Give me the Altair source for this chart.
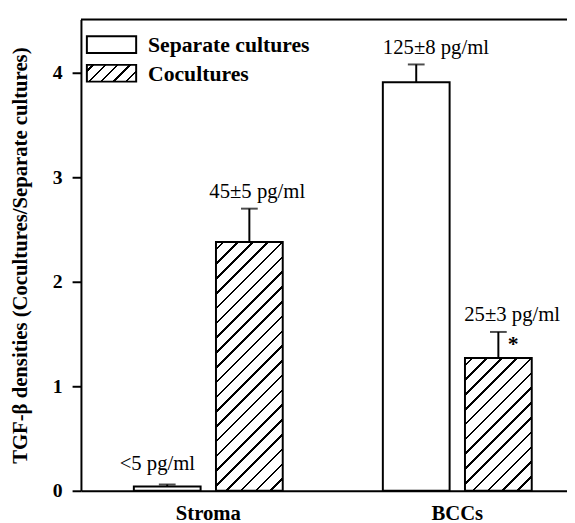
import altair as alt
import pandas as pd

# ---- data ----
groups = ["Stroma", "Stroma", "BCCs", "BCCs"]
series = ["Separate cultures", "Cocultures", "Separate cultures", "Cocultures"]
values = [0.04, 2.38, 3.91, 1.27]
sems = [0.02, 0.32, 0.17, 0.25]
labels = ["<5 pg/ml", "45±5 pg/ml", "125±8 pg/ml", "25±3 pg/ml"]
marks = ["", "", "", "*"]
group_order = ["Stroma", "BCCs"]
series_order = ["Separate cultures", "Cocultures"]
y_ticks = [0, 1, 2, 3, 4]
y_title = "TGF-β densities (Cocultures/Separate cultures)"

df = pd.DataFrame({"group": groups, "series": series, "value": values,
                   "sem": sems, "label": labels, "mark": marks})

# ---- layout / style ----
W, H = 493, 478
YMAX = 4.51
PX_PER_UNIT = H / YMAX
GP_IN, GP_OUT, G_ALIGN = 0.402, 0.177, 0.6
SP_IN = 0.187
group_step = W / (2 - GP_IN + 2 * GP_OUT)
group_bw = group_step * (1 - GP_IN)
sub_step = group_bw / (2 - SP_IN)
bar_w = sub_step * (1 - SP_IN)
FONT = "Liberation Serif"


def hatch(w, h, spacing=15.0, lw=2.6):
    L = w + h
    k = (w + h) / (w * w + h * h)
    stops = [{"offset": 0, "color": "white"}]
    c = spacing * 0.5
    while c - lw / 2 < L:
        a = max(0.0, (c - lw / 2) / L)
        b = min(1.0, (c + lw / 2) / L)
        stops += [{"offset": a, "color": "white"}, {"offset": a, "color": "black"},
                  {"offset": b, "color": "black"}, {"offset": b, "color": "white"}]
        c += spacing
    stops.append({"offset": 1, "color": "white"})
    return {"gradient": "linear", "x1": 0, "y1": 0, "x2": k * w, "y2": k * h,
            "stops": stops}


xenc = alt.X("group:N", sort=group_order,
             scale=alt.Scale(paddingInner=GP_IN, paddingOuter=GP_OUT, align=G_ALIGN),
             axis=alt.Axis(title=None, ticks=False, labelAngle=0, domainWidth=2,
                           domainColor="black", labelFont=FONT, labelFontSize=21,
                           labelFontWeight="bold", labelColor="black", labelPadding=12))
xoff = alt.XOffset("series:N", sort=series_order,
                   scale=alt.Scale(paddingInner=SP_IN, paddingOuter=0))
yenc = alt.Y("value:Q", scale=alt.Scale(domain=[0, YMAX], nice=False, zero=True),
             axis=alt.Axis(values=y_ticks, format="d", grid=False, tickSize=9, tickWidth=2,
                           tickColor="black", domainWidth=2, domainColor="black",
                           labelFont=FONT, labelFontSize=20, labelFontWeight="bold",
                           labelColor="black", labelPadding=10,
                           title=y_title, titleFont=FONT, titleFontSize=21,
                           titleFontWeight="bold", titleColor="black",
                           titleX=-61, titleY=H / 2, titleAngle=270,
                           titleAlign="center", titleBaseline="middle"))

base = alt.Chart(df).transform_calculate(top="datum.value + datum.sem")

layers = []
# separate cultures bars (open)
layers.append(base.transform_filter(alt.datum.series == "Separate cultures")
              .mark_bar(fill="white", stroke="black", strokeWidth=2)
              .encode(x=xenc, xOffset=xoff, y=yenc))
# cocultures bars (hatched)
for g, s, v in zip(groups, series, values):
    if s != "Cocultures":
        continue
    layers.append(base.transform_filter((alt.datum.series == s) & (alt.datum.group == g))
                  .mark_bar(fill=hatch(bar_w, v * PX_PER_UNIT), stroke="black", strokeWidth=2)
                  .encode(x=xenc, xOffset=xoff, y=yenc))

# error bars (upper only)
layers.append(base.mark_rule(color="black", strokeWidth=2)
              .encode(x=xenc, xOffset=xoff, y=yenc, y2="top:Q"))
layers.append(base.mark_tick(orient="horizontal", size=17, thickness=2, color="black")
              .encode(x=xenc, xOffset=xoff, y=alt.Y("top:Q")))

# value labels
label_dx = {"<5 pg/ml": -10, "45±5 pg/ml": 8, "125±8 pg/ml": 20, "25±3 pg/ml": 14}
label_dy = {"<5 pg/ml": -21, "45±5 pg/ml": -17, "125±8 pg/ml": -17, "25±3 pg/ml": -17}
for lab in labels:
    layers.append(base.transform_filter(alt.datum.label == lab)
                  .mark_text(font=FONT, fontSize=21, color="black", baseline="middle",
                             align="center", dx=label_dx[lab], dy=label_dy[lab])
                  .encode(x=xenc, xOffset=xoff, y=alt.Y("top:Q"), text="label:N"))
# significance mark
layers.append(base.transform_filter(alt.datum.mark != "")
              .mark_text(font=FONT, fontSize=22, fontWeight="bold", color="black",
                         baseline="middle", align="center", dx=15, dy=12)
              .encode(x=xenc, xOffset=xoff, y=alt.Y("top:Q"), text="mark:N"))

# top frame line
frame_df = pd.DataFrame({"k": [0]})
layers.append(alt.Chart(frame_df).mark_rule(color="black", strokeWidth=2)
              .encode(x=alt.value(0), x2=alt.value(W), y=alt.value(0)))

# legend
leg_df = pd.DataFrame({"series": series_order})
leg1 = alt.Chart(leg_df).transform_filter(alt.datum.series == series_order[0])
leg2 = alt.Chart(leg_df).transform_filter(alt.datum.series == series_order[1])
layers.append(leg1.mark_rect(fill="white", stroke="black", strokeWidth=2)
              .encode(x=alt.value(6), x2=alt.value(56), y=alt.value(17), y2=alt.value(34)))
layers.append(leg2.mark_rect(fill=hatch(50, 17, spacing=12.5, lw=2.4), stroke="black",
                             strokeWidth=2)
              .encode(x=alt.value(6), x2=alt.value(56), y=alt.value(46), y2=alt.value(63)))
layers.append(leg1.mark_text(font=FONT, fontSize=22, fontWeight="bold", color="black",
                             align="left", baseline="middle")
              .encode(x=alt.value(68), y=alt.value(26), text="series:N"))
layers.append(leg2.mark_text(font=FONT, fontSize=22, fontWeight="bold", color="black",
                             align="left", baseline="middle")
              .encode(x=alt.value(68), y=alt.value(55), text="series:N"))

chart = alt.layer(*layers).properties(
    width=W, height=H,
    autosize=alt.AutoSizeParams(type="none"),
    padding={"left": 74, "top": 8, "right": 0, "bottom": 29},
).configure_view(stroke=None).configure(background="white")

chart.save("out.html", embed_options={"renderer": "svg", "actions": False})
